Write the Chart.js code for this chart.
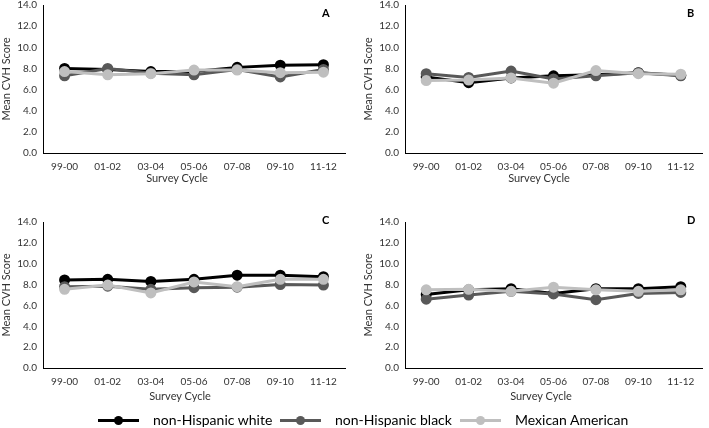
<!DOCTYPE html>
<html>
<head>
<meta charset="utf-8">
<script src="https://cdn.jsdelivr.net/npm/chart.js@4.4.0/dist/chart.umd.min.js"></script>
<style>
  body { margin: 0; background: #fff; width: 709px; height: 428px; overflow: hidden; position: relative; font-family: Lato, "Open Sans", sans-serif; }
  .panel { position: absolute; }
  .tag { position: absolute; font: bold 11px Lato, "Open Sans", sans-serif; color: #000; }
  .xtitle { position: absolute; width: 300px; text-align: center; font: 11px Lato, "Open Sans", sans-serif; color: #333; }
  .legend { position: absolute; top: 410px; left: 0; width: 709px; height: 20px; font: 14px Lato, "Open Sans", sans-serif; color: #000; }
  .item { position: absolute; top: 0; height: 20px; line-height: 20px; }
  .swatch { position: absolute; top: 9px; width: 41px; height: 3px; }
  .dot { position: absolute; top: -3px; left: 16px; width: 9px; height: 9px; border-radius: 50%; }
  .label { position: absolute; white-space: nowrap; }
</style>
</head>
<body>
<div class="panel" style="left:0;top:-7px"><canvas id="chartA" width="355" height="184"></canvas></div>
<div class="panel" style="left:362px;top:-7px"><canvas id="chartB" width="347" height="184"></canvas></div>
<div class="panel" style="left:0;top:210px"><canvas id="chartC" width="355" height="182"></canvas></div>
<div class="panel" style="left:362px;top:210px"><canvas id="chartD" width="347" height="182"></canvas></div>
<div class="tag" style="left:322px;top:6px">A</div>
<div class="tag" style="left:687px;top:6px">B</div>
<div class="tag" style="left:322px;top:213px">C</div>
<div class="tag" style="left:687px;top:213px">D</div>
<div class="xtitle" style="left:27px;top:171px">Survey Cycle</div>
<div class="xtitle" style="left:389px;top:171px">Survey Cycle</div>
<div class="xtitle" style="left:30px;top:389px">Survey Cycle</div>
<div class="xtitle" style="left:391px;top:389px">Survey Cycle</div>
<div class="legend" id="legend"></div>

<script>
const cycles = ['99-00', '01-02', '03-04', '05-06', '07-08', '09-10', '11-12'];
const groups = ['non-Hispanic white', 'non-Hispanic black', 'Mexican American'];
const groupColors = ['#000000', '#595959', '#bfbfbf'];
const yTicks = [0, 2, 4, 6, 8, 10, 12, 14];

const whiteA = [8.0, 7.9, 7.7, 7.7, 8.1, 8.3, 8.35];
const blackA = [7.3, 8.0, 7.55, 7.4, 7.9, 7.2, 7.9];
const mexA   = [7.7, 7.4, 7.5, 7.85, 7.85, 7.6, 7.65];

const whiteB = [7.2, 6.65, 7.1, 7.3, 7.4, 7.6, 7.35];
const blackB = [7.5, 7.15, 7.75, 7.0, 7.3, 7.6, 7.3];
const mexB   = [6.85, 6.9, 7.1, 6.6, 7.8, 7.5, 7.45];

const whiteC = [8.45, 8.5, 8.3, 8.5, 8.9, 8.9, 8.75];
const blackC = [7.8, 7.85, 7.55, 7.7, 7.75, 8.0, 7.95];
const mexC   = [7.55, 7.95, 7.2, 8.25, 7.8, 8.5, 8.5];

const whiteD = [7.05, 7.5, 7.6, 7.15, 7.6, 7.6, 7.8];
const blackD = [6.6, 7.0, 7.35, 7.1, 6.55, 7.15, 7.25];
const mexD   = [7.5, 7.55, 7.35, 7.75, 7.5, 7.35, 7.5];

const tickFont = { family: 'Lato, "Open Sans", sans-serif', size: 10 };
const titleFont = { family: 'Lato, "Open Sans", sans-serif', size: 11 };

function makeChart(id, series, padRight) {
    const ctx = document.getElementById(id).getContext('2d');
    return new Chart(ctx, {
        type: 'line',
        data: {
            labels: cycles,
            datasets: series.map((vals, i) => ({
                label: groups[i],
                data: vals,
                borderColor: groupColors[i],
                backgroundColor: groupColors[i],
                pointBackgroundColor: groupColors[i],
                pointBorderColor: groupColors[i],
                borderWidth: 3,
                pointRadius: 4,
                tension: 0,
                order: 3 - i
            }))
        },
        options: {
            responsive: false,
            animation: false,
            layout: { padding: { left: 0, right: padRight, top: 0, bottom: 0 } },
            plugins: { legend: { display: false }, tooltip: { enabled: false } },
            scales: {
                x: {
                    offset: true,
                    afterFit: s => { s.height = 24; },
                    grid: { display: false, drawTicks: false },
                    border: { color: '#000', width: 1 },
                    ticks: { color: '#333', font: tickFont, padding: 8, maxRotation: 0 }
                },
                y: {
                    min: 0,
                    max: 14,
                    afterBuildTicks: s => { s.ticks = yTicks.map(v => ({ value: v })); },
                    afterFit: s => { s.width = 43; },
                    grid: { display: false, drawTicks: false },
                    border: { color: '#000', width: 1 },
                    ticks: { color: '#333', font: tickFont, padding: 6, callback: v => v.toFixed(1) },
                    title: { display: true, text: 'Mean CVH Score', color: '#333', font: titleFont, padding: 0 }
                }
            }
        }
    });
}

makeChart('chartA', [whiteA, blackA, mexA], 10);
makeChart('chartB', [whiteB, blackB, mexB], 4);
makeChart('chartC', [whiteC, blackC, mexC], 10);
makeChart('chartD', [whiteD, blackD, mexD], 4);

// legend built from the same series names/colours
const legendPos = [98, 280, 460];
const legend = document.getElementById('legend');
groups.forEach((name, i) => {
    const item = document.createElement('div');
    item.className = 'item';
    item.style.left = legendPos[i] + 'px';
    item.innerHTML = '<div class="swatch" style="background:' + groupColors[i] + '"><div class="dot" style="background:' + groupColors[i] + '"></div></div>' +
        '<div class="label" style="left:55px">' + name + '</div>';
    legend.appendChild(item);
});
</script>
</body>
</html>
